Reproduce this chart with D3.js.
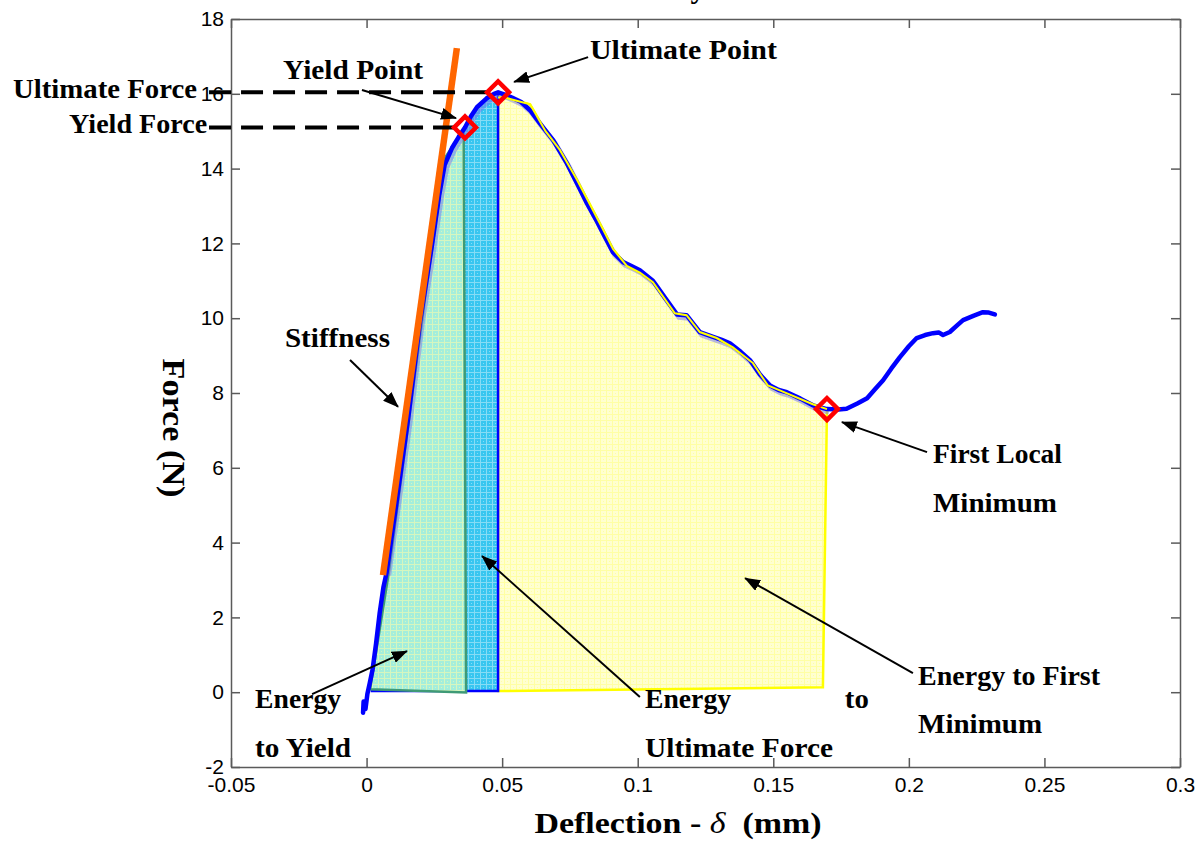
<!DOCTYPE html>
<html>
<head>
<meta charset="utf-8">
<script src="https://cdn.jsdelivr.net/npm/d3@7"></script>
<style>
body { margin:0; background:#fff; }
svg { display:block; }
.tick text { font-family:"Liberation Sans", Arial, sans-serif; font-size:21px; fill:#000; }
.tick line, .domain { stroke:#5a5a5a; stroke-width:1.5; }
.ann { font-family:"Liberation Serif", "Times New Roman", serif; font-weight:bold; font-size:27px; fill:#000; white-space:pre; }
</style>
</head>
<body>
<svg id="chart" width="1202" height="852"></svg>
<script>
// measured force-deflection curve (mm, N)
var curveX = [-0.0013,-0.0011,-0.0004,0.0003,0.0012,0.0022,0.0035,0.0048,0.0062,0.0074,0.0111,0.0153,0.0197,0.0240,0.0268,0.0288,0.0315,0.0340,0.0363,0.0385,0.0407,0.0443,0.0470,0.0485,0.0510,0.0536,0.0570,0.0603,0.0640,0.0688,0.0739,0.0780,0.0813,0.0845,0.0872,0.0909,0.0946,0.0975,0.1008,0.1056,0.1100,0.1145,0.1180,0.1229,0.1278,0.1310,0.1340,0.1380,0.1414,0.1450,0.1488,0.1520,0.1550,0.1600,0.1646,0.1698,0.1740,0.1770,0.1810,0.1846,0.1875,0.1905,0.1935,0.1967,0.2000,0.2029,0.2060,0.2089,0.2110,0.2126,0.2151,0.2180,0.2200,0.2240,0.2273,0.2295,0.2317];
var curveF = [-0.55,-0.25,-0.45,-0.05,0.25,0.6,1.3,2.1,2.8,3.2,5.1,7.3,9.9,11.9,13.3,14.1,14.55,14.85,15.1,15.4,15.64,15.88,16.0,16.04,15.98,15.9,15.78,15.56,15.2,14.76,14.14,13.55,13.07,12.65,12.27,11.76,11.5,11.4,11.28,11.0,10.55,10.1,10.08,9.63,9.5,9.42,9.33,9.1,8.88,8.5,8.2,8.08,8.02,7.85,7.67,7.57,7.56,7.58,7.72,7.86,8.1,8.34,8.65,8.96,9.25,9.47,9.55,9.6,9.62,9.55,9.63,9.82,9.95,10.07,10.16,10.15,10.1];

// energy areas (polygon outlines)
var yieldAreaX = [0.0013,0.0082,0.0215,0.0290,0.0358,0.0367];
var yieldAreaF = [0.08,3.2,10.5,14.3,15.05,-0.01];
var ultAreaX = [0.0020,0.0074,0.0111,0.0153,0.0197,0.0240,0.0268,0.0288,0.0315,0.0340,0.0363,0.0385,0.0407,0.0443,0.0470,0.0485,0.0485];
var ultAreaF = [0.03,3.2,5.1,7.3,9.9,11.9,13.3,14.1,14.55,14.85,15.1,15.4,15.64,15.88,16.0,16.04,0.03];
var minAreaX = [0.0485,0.0485,0.0510,0.0536,0.0603,0.0660,0.0713,0.0776,0.0868,0.0909,0.0960,0.1008,0.1056,0.1137,0.1180,0.1229,0.1291,0.1351,0.1425,0.1480,0.1524,0.1646,0.1698,0.1683];
var minAreaF = [0.03,15.9,15.9,15.85,15.72,15.0,14.5,13.7,12.43,11.85,11.4,11.22,10.96,10.13,10.08,9.63,9.47,9.22,8.8,8.2,8.07,7.7,7.57,0.13];

// stiffness fit line
var stiffX = [0.00605,0.0333];
var stiffF = [3.13,17.22];

// yield, ultimate, first local minimum
var pointX = [0.0363,0.0485,0.1698];
var pointF = [15.1,16.04,7.57];

var xTicks = [-0.05,0,0.05,0.1,0.15,0.2,0.25,0.3];
var xTickLabels = ["-0.05","0","0.05","0.1","0.15","0.2","0.25","0.3"];
var yTicks = [-2,0,2,4,6,8,10,12,14,16,18];

var labels = [
	{t:"Ultimate Force", x:-0.1304, y:15.89, w:184},
	{t:"Yield Force", x:-0.1097, y:14.95, w:138},
	{t:"Yield Point", x:-0.0308, y:16.40, w:140},
	{t:"Ultimate Point", x:0.0824, y:16.93, w:187},
	{t:"Stiffness", x:-0.0301, y:9.23, w:105},
	{t:"First Local", x:0.2089, y:6.13, w:129},
	{t:"Minimum", x:0.2089, y:4.82, w:124},
	{t:"Energy to First", x:0.2034, y:0.19, w:182},
	{t:"Minimum", x:0.2034, y:-1.09, w:124},
	{t:"Energy", x:0.1027, y:-0.42, w:86},
	{t:"to", x:0.1764, y:-0.42, w:24},
	{t:"Ultimate Force", x:0.1027, y:-1.73, w:188},
	{t:"Energy", x:-0.0411, y:-0.42, w:86},
	{t:"to Yield", x:-0.0411, y:-1.73, w:96}
];
var arrows = [
	[-0.0017,16.10,0.0330,15.35],
	[0.0817,16.98,0.0544,16.32],
	[-0.0061,8.88,0.0116,7.63],
	[0.2067,6.42,0.1753,7.22],
	[0.2015,0.51,0.1396,3.05],
	[0.1008,-0.13,0.0426,3.64],
	[-0.0201,-0.05,0.0149,1.10]
];
var dashStartX = -0.0581;
var dashEndX = [0.0330,0.0470];

var svg = d3.select("#chart");
var pLeft = 231, pRight = 1180, pTop = 19, pBottom = 767;
var x = d3.scaleLinear().domain([-0.05,0.3]).range([pLeft,pRight]);
var y = d3.scaleLinear().domain([-2,18]).range([pBottom,pTop]);

var defs = svg.append("defs");
function hatch(id, base, line) {
	var p = defs.append("pattern").attr("id",id).attr("width",6).attr("height",6).attr("patternUnits","userSpaceOnUse");
	p.append("rect").attr("width",6).attr("height",6).attr("fill",base);
	p.append("path").attr("d","M0,0.5H6M0.5,0V6").attr("stroke",line).attr("stroke-width",1);
	p.append("rect").attr("x",3).attr("y",3).attr("width",1).attr("height",1).attr("fill",line);
}
hatch("hGreen","#a4eedb","#d6f6bf");
hatch("hCyan","#38c6f0","#86dcf5");
hatch("hYellow","#ffffd0","#ffffa4");
defs.append("marker").attr("id","head").attr("viewBox","0 0 16 12")
	.attr("refX",15).attr("refY",6).attr("markerWidth",16).attr("markerHeight",12)
	.attr("markerUnits","userSpaceOnUse").attr("orient","auto")
	.append("path").attr("d","M0,0L16,6L0,12Z").attr("fill","#000");

function pts(xs, fs) {
	return xs.map(function(d,i) { return [d, fs[i]]; });
}
var line = d3.line().x(function(d) { return x(d[0]); }).y(function(d) { return y(d[1]); });

// axes box
svg.append("g").attr("transform","translate(0,"+pBottom+")")
	.call(d3.axisBottom(x).tickValues(xTicks).tickFormat(function(d,i) { return xTickLabels[i]; }).tickSize(-9).tickSizeOuter(0).tickPadding(10));
svg.append("g").attr("transform","translate(0,"+pTop+")")
	.call(d3.axisTop(x).tickValues(xTicks).tickFormat("").tickSize(-9).tickSizeOuter(0));
svg.append("g").attr("transform","translate("+pLeft+",0)")
	.call(d3.axisLeft(y).tickValues(yTicks).tickFormat(function(d) { return String(d); }).tickSize(-9).tickSizeOuter(0).tickPadding(7));
svg.append("g").attr("transform","translate("+pRight+",0)")
	.call(d3.axisRight(y).tickValues(yTicks).tickFormat("").tickSize(-9).tickSizeOuter(0));
svg.selectAll(".tick text").attr("font-size",null).attr("font-family",null);

// energy areas
var minArea = pts(minAreaX, minAreaF);
svg.append("path").attr("d",line(minArea)+"Z").attr("fill","url(#hYellow)").attr("stroke","#ffff00").attr("stroke-width",2.5);
svg.append("path").attr("d",line(pts(ultAreaX, ultAreaF))+"Z").attr("fill","url(#hCyan)").attr("stroke","#0000ff").attr("stroke-width",2.5);
svg.append("path").attr("d",line(pts(yieldAreaX, yieldAreaF))+"Z").attr("fill","url(#hGreen)").attr("stroke","#3f9a76").attr("stroke-width",2.5);

// curve
var curve = pts(curveX, curveF);
svg.append("path").attr("d",line(curve.filter(function(d) { return d[0] > 0.007 && d[0] < 0.17; })))
	.attr("transform","translate(2,3)").attr("fill","none").attr("stroke","#7575ee").attr("stroke-width",5).attr("opacity",0.5);
svg.append("path").attr("d",line(curve)).attr("fill","none").attr("stroke","#0000ff")
	.attr("stroke-width",4.5).attr("stroke-linejoin","round").attr("stroke-linecap","round");
svg.append("path").attr("d",line(minArea.slice(1,-1))).attr("fill","none").attr("stroke","#ffff00").attr("stroke-width",2);

// stiffness
svg.append("path").attr("d",line(pts(stiffX, stiffF))).attr("stroke","#ff6600").attr("stroke-width",6.5);

// force levels
dashEndX.forEach(function(d,i) {
	svg.append("line").attr("x1",x(dashStartX)).attr("x2",x(d)).attr("y1",y(pointF[i])).attr("y2",y(pointF[i]))
		.attr("stroke","#000").attr("stroke-width",4).attr("stroke-dasharray","22,10");
});

// key points
svg.selectAll(".pt").data(pts(pointX, pointF)).enter().append("path")
	.attr("d",d3.symbol(d3.symbolSquare,240))
	.attr("transform",function(d) { return "translate("+x(d[0])+","+y(d[1])+") rotate(45)"; })
	.attr("fill","none").attr("stroke","#ff0000").attr("stroke-width",4.5);

// annotations
arrows.forEach(function(a) {
	svg.append("line").attr("x1",x(a[0])).attr("y1",y(a[1])).attr("x2",x(a[2])).attr("y2",y(a[3]))
		.attr("stroke","#000").attr("stroke-width",2).attr("marker-end","url(#head)");
});
labels.forEach(function(l) {
	svg.append("text").attr("class","ann").attr("x",x(l.x)).attr("y",y(l.y))
		.attr("textLength",l.w).attr("lengthAdjust","spacingAndGlyphs").text(l.t);
});

// axis titles
svg.append("text").attr("class","ann").attr("transform","translate(163,428) rotate(90)")
	.attr("text-anchor","middle").style("font-size","31px")
	.attr("textLength",139).attr("lengthAdjust","spacingAndGlyphs").text("Force (N)");
var xt = svg.append("text").attr("class","ann").attr("x",678).attr("y",833)
	.attr("text-anchor","middle").style("font-size","30px")
	.attr("textLength",287).attr("lengthAdjust","spacingAndGlyphs");
xt.append("tspan").text("Deflection - ");
xt.append("tspan").style("font-style","italic").style("font-weight","normal").text("δ");
xt.append("tspan").text("  (mm)");

// title (cut off at top)
svg.append("text").attr("class","ann").attr("x",698).attr("y",-2).attr("text-anchor","middle")
	.style("font-size","30px").text("y");
</script>
</body>
</html>
